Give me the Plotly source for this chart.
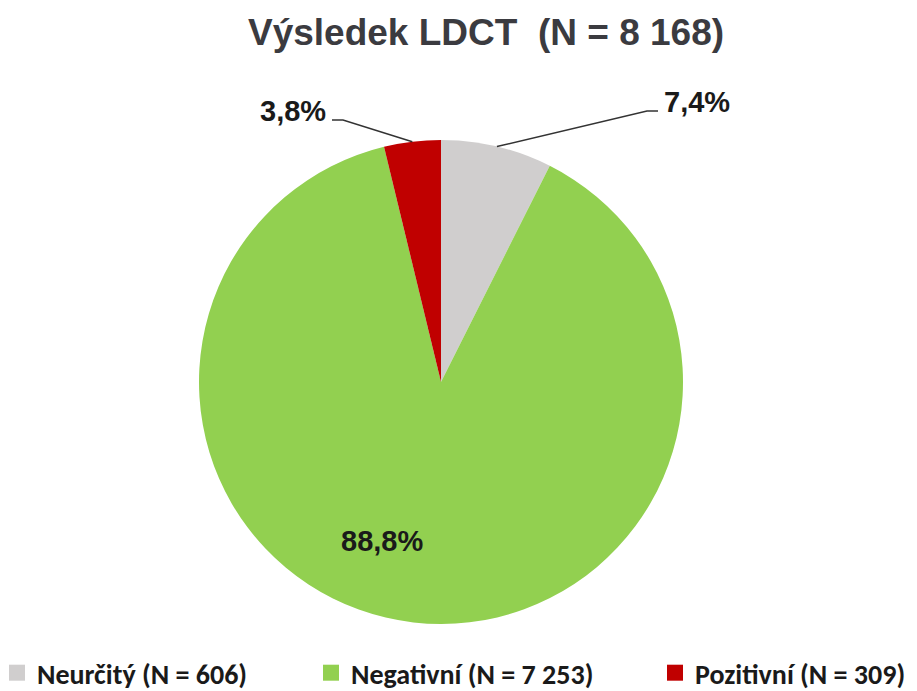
import math
import plotly.graph_objects as go

categories = ["Neurčitý (N = 606)", "Negativní (N = 7 253)", "Pozitivní (N = 309)"]
counts = [606, 7253, 309]
percent_labels = ["7,4%", "88,8%", "3,8%"]
colors = ["#d0cece", "#92d050", "#c00000"]

# the page body has an 8px margin, so the figure is drawn 8px in from the window corner
OFF = 8
WIN_W, WIN_H = 917, 691
W, H = WIN_W - OFF, WIN_H - OFF

# pie placement in window pixels
PIE_CX, PIE_CY, PIE_R = 441, 382, 242
ML = PIE_CX - PIE_R - OFF
MR = W - (PIE_CX + PIE_R - OFF)
MT = PIE_CY - PIE_R - OFF
MB = H - (PIE_CY + PIE_R - OFF)
PW, PH = W - ML - MR, H - MT - MB
R = min(PW, PH) / 2.0
CX, CY = OFF + ML + PW / 2.0, OFF + MT + PH / 2.0

def to_paper(x, y):
    """window pixel -> paper coordinates"""
    return (x - OFF - ML) / PW, (H - MB - (y - OFF)) / PH

total = sum(counts)
fig = go.Figure(go.Pie(
    labels=categories, values=counts, sort=False, direction="clockwise",
    rotation=0, marker=dict(colors=colors, line=dict(width=0)),
    textinfo="none", hoverinfo="label+percent", showlegend=False,
))

# legend entries (one legend per category so each can sit where the reference has it)
legend_names = ["legend", "legend2", "legend3"]
legend_text_x = [37, 351, 695]
for i, cat in enumerate(categories):
    fig.add_trace(go.Scatter(
        x=[None], y=[None], mode="markers", name=cat,
        marker=dict(symbol="square", size=16, color=colors[i]),
        legend=legend_names[i], showlegend=True, hoverinfo="skip",
    ))

# label placement (style offsets relative to pie centre, in px)
label_style = [
    dict(kind="out", elbow=(206, -271), anchor="left"),
    dict(kind="in", dx=-59, dy=159),
    dict(kind="out", elbow=(-98, -262), anchor="right"),
]
label_font = dict(family="Liberation Sans, Arial", size=29, color="#1a1a1a", weight="bold")

annotations = []
shapes = []
cum = 0.0
for i, v in enumerate(counts):
    start = cum / total
    cum += v
    mid = (start + v / total / 2.0) * 2 * math.pi
    st = label_style[i]
    if st["kind"] == "out":
        ex, ey = CX + R * math.sin(mid), CY - R * math.cos(mid)
        bx, by = CX + st["elbow"][0], CY + st["elbow"][1]
        sgn = 1 if st["anchor"] == "left" else -1
        hx = bx + 11 * sgn
        p = [to_paper(ex, ey), to_paper(bx, by), to_paper(hx, by)]
        path = "M {} {} L {} {} L {} {}".format(p[0][0], p[0][1], p[1][0], p[1][1], p[2][0], p[2][1])
        shapes.append(dict(type="path", xref="paper", yref="paper", path=path,
                           line=dict(color="#333333", width=1.5)))
        lx, ly = to_paper(hx + 4 * sgn, by - 9)
        annotations.append(dict(x=lx, y=ly, xref="paper", yref="paper", text=percent_labels[i],
                                showarrow=False, xanchor=st["anchor"], yanchor="middle",
                                font=label_font))
    else:
        lx, ly = to_paper(CX + st["dx"], CY + st["dy"])
        annotations.append(dict(x=lx, y=ly, xref="paper", yref="paper", text=percent_labels[i],
                                showarrow=False, xanchor="center", yanchor="middle",
                                font=label_font))

tx, ty = to_paper(486, 32)
annotations.append(dict(x=tx, y=ty, xref="paper", yref="paper",
                        text="Výsledek LDCT\u00a0\u00a0(N = 8 168)", showarrow=False,
                        xanchor="center", yanchor="middle",
                        font=dict(family="Liberation Sans, Arial", size=37, color="#3b3b40", weight="bold")))

legend_font = dict(family="Carlito, Lato, Open Sans", size=28, color="#1a1a1a", weight="bold")
legends = {}
for i, name in enumerate(legend_names):
    lx, ly = to_paper(legend_text_x[i] - 40, 673)
    legends[name] = dict(orientation="h", x=lx, y=ly, xanchor="left", yanchor="middle",
                         font=legend_font, bgcolor="rgba(0,0,0,0)", borderwidth=0)

fig.update_layout(
    width=W, height=H,
    margin=dict(l=ML, r=MR, t=MT, b=MB, autoexpand=False),
    paper_bgcolor="white", plot_bgcolor="white",
    xaxis=dict(visible=False), yaxis=dict(visible=False),
    shapes=shapes, annotations=annotations,
    **legends,
)
fig.write_html("out.html")
